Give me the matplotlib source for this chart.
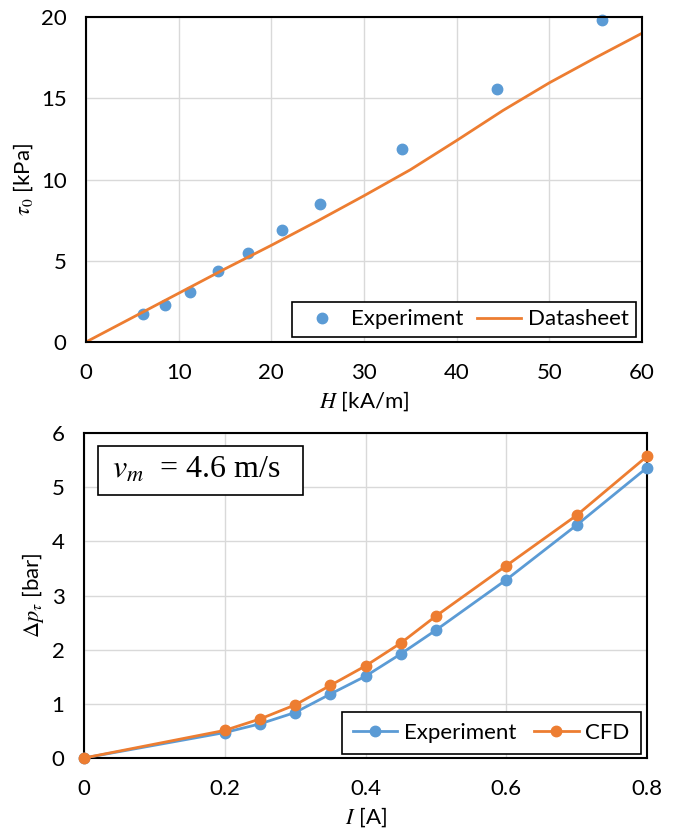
import numpy as np
import matplotlib
matplotlib.use("Agg")
import matplotlib.pyplot as plt
from matplotlib.patches import Rectangle

plt.rcParams['font.family'] = ['Lato', 'DejaVu Sans']
plt.rcParams['mathtext.fontset'] = 'stix'

# top chart: yield stress vs field strength
h_exp = [6.2, 8.5, 11.2, 14.2, 17.5, 21.2, 25.2, 34.1, 44.3, 55.7]
tau_exp = [1.7, 2.3, 3.1, 4.4, 5.5, 6.9, 8.5, 11.9, 15.6, 19.8]
h_ds = [0, 5, 10, 15, 20, 25, 30, 35, 40, 45, 50, 55, 60]
tau_ds = [0, 1.5, 3.0, 4.5, 5.95, 7.45, 9.0, 10.6, 12.4, 14.25, 15.95, 17.5, 19.0]

# bottom chart: pressure drop vs current
current = [0, 0.2, 0.25, 0.3, 0.35, 0.4, 0.45, 0.5, 0.6, 0.7, 0.8]
dp_exp = [0, 0.47, 0.63, 0.84, 1.18, 1.51, 1.92, 2.36, 3.29, 4.30, 5.36]
dp_cfd = [0, 0.51, 0.72, 0.98, 1.34, 1.70, 2.12, 2.62, 3.55, 4.48, 5.57]

blue = '#5B9BD5'
orange = '#ED7D31'
fs = 16

fig = plt.figure(figsize=(6.76, 8.31), dpi=100)
W, H = 676, 831
ax1 = fig.add_axes([86 / W, 1 - 342 / H, (642 - 86) / W, (342 - 17) / H])
ax2 = fig.add_axes([84 / W, 1 - 758 / H, (647 - 84) / W, (758 - 433) / H])


def style(ax):
    ax.grid(True, color='#D9D9D9', linewidth=1)
    ax.set_axisbelow(True)
    for s in ax.spines.values():
        s.set_linewidth(1.5)
        s.set_color('black')
    ax.tick_params(length=0, labelsize=fs)
    ax.tick_params(axis='x', pad=15)
    ax.tick_params(axis='y', pad=14)


ax1.plot(h_exp, tau_exp, 'o', color=blue, markersize=7.5, label='Experiment', clip_on=False)
ax1.plot(h_ds, tau_ds, '-', color=orange, linewidth=2, label='Datasheet')
ax1.set_xlim(0, 60)
ax1.set_ylim(0, 20)
ax1.set_xticks(np.arange(0, 61, 10))
ax1.set_yticks(np.arange(0, 21, 5))
style(ax1)
ax1.set_xlabel('$H$ [kA/m]', fontsize=fs, labelpad=5)
ax1.set_ylabel(r'$\tau_0$ [kPa]', fontsize=fs, labelpad=4)
leg1 = ax1.legend(loc='lower right', bbox_to_anchor=(0.99, 0.015), ncol=2,
                  fontsize=fs, fancybox=False, edgecolor='black', framealpha=1,
                  borderaxespad=0, handlelength=2.0, columnspacing=0.6,
                  handletextpad=0.3, borderpad=0.35)
leg1.get_frame().set_linewidth(1.2)

ax2.plot(current, dp_exp, '-o', color=blue, linewidth=2, markersize=7.5,
         label='Experiment', clip_on=False, zorder=3)
ax2.plot(current, dp_cfd, '-o', color=orange, linewidth=2, markersize=7.5,
         label='CFD', clip_on=False, zorder=3)
ax2.set_xlim(0, 0.8)
ax2.set_ylim(0, 6)
ax2.set_xticks([0, 0.2, 0.4, 0.6, 0.8])
ax2.set_xticklabels(['0', '0.2', '0.4', '0.6', '0.8'])
ax2.set_yticks(np.arange(0, 7, 1))
style(ax2)
ax2.set_xlabel('$I$ [A]', fontsize=fs, labelpad=5)
ax2.set_ylabel(r'$\Delta p_\tau$ [bar]', fontsize=fs, labelpad=4)
leg2 = ax2.legend(loc='lower right', bbox_to_anchor=(0.989, 0.012), ncol=2,
                  fontsize=fs, fancybox=False, edgecolor='black', framealpha=1,
                  borderaxespad=0, handlelength=2.0, columnspacing=0.8,
                  handletextpad=0.3, borderpad=0.5)
leg2.get_frame().set_linewidth(1.2)

ax2.add_patch(Rectangle((0.025, 0.809), 0.364, 0.151, transform=ax2.transAxes,
                        facecolor='white', edgecolor='black', linewidth=1.2, zorder=5))
ax2.text(0.05, 0.884, r'$v_m$  = 4.6 m/s', transform=ax2.transAxes,
         fontsize=23, family='Liberation Serif', va='center', ha='left', zorder=6)

fig.savefig('out.png', dpi=100)
